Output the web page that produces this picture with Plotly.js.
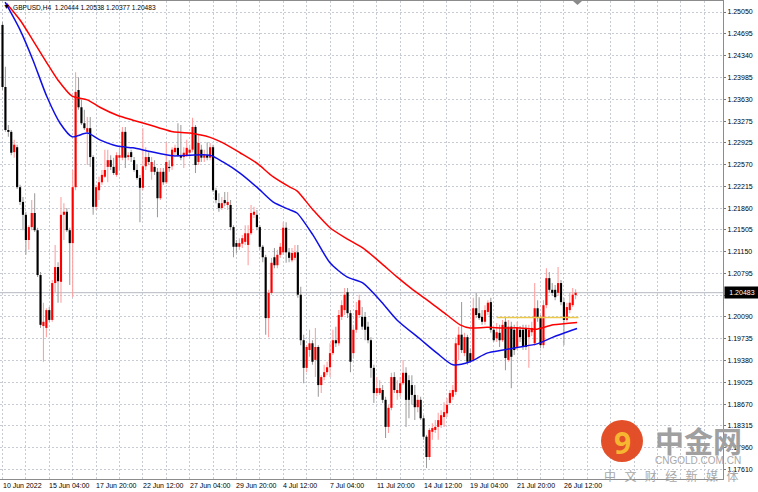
<!DOCTYPE html>
<html><head><meta charset="utf-8">
<script src="https://cdn.plot.ly/plotly-3.0.1.min.js"></script>
<style>html,body{margin:0;padding:0;background:#fff;}#chart{width:758px;height:492px;}</style>
</head><body><div id="chart"></div>
<script>
// GBPUSD H4 candles, bar 0 = 10 Jun 2022 12:00
const openP = [
1.2484,1.2383,1.2313,1.2310,1.2277,1.2285,1.2220,1.2196,1.2175,1.2134,
1.2155,1.2178,1.2150,1.2077,1.1994,1.1991,1.2020,1.2004,1.2064,1.2090,
1.2066,1.2175,1.2180,1.2150,1.2129,1.2220,1.2378,1.2350,1.2324,1.2310,
1.2316,1.2269,1.2188,1.2215,1.2228,1.2237,1.2253,1.2264,1.2253,1.2240,
1.2268,1.2268,1.2310,1.2269,1.2277,1.2264,1.2248,1.2235,1.2219,1.2254,
1.2269,1.2245,1.2253,1.2245,1.2202,1.2245,1.2228,1.2253,1.2254,1.2277,
1.2284,1.2272,1.2269,1.2272,1.2276,1.2281,1.2318,1.2261,1.2281,1.2268,
1.2272,1.2268,1.2285,1.2215,1.2194,1.2186,1.2199,1.2191,1.2191,1.2155,
1.2129,1.2123,1.2128,1.2131,1.2126,1.2145,1.2175,1.2175,1.2155,1.2123,
1.2106,1.2007,1.2048,1.2106,1.2093,1.2110,1.2114,1.2154,1.2114,1.2101,
1.2105,1.2114,1.2045,1.1971,1.1926,1.1955,1.1966,1.1939,1.1960,1.1898,
1.1911,1.1919,1.1927,1.1950,1.1971,1.1966,1.2009,1.2020,1.2049,1.2015,
1.1950,1.1988,1.2012,1.2009,1.2009,1.1993,1.1971,1.1926,1.1885,1.1885,
1.1890,1.1874,1.1830,1.1861,1.1911,1.1885,1.1885,1.1901,1.1918,1.1906,
1.1898,1.1882,1.1862,1.1874,1.1844,1.1814,1.1781,1.1822,1.1825,1.1830,
1.1833,1.1846,1.1852,1.1869,1.1879,1.1887,1.1963,1.1980,1.1950,1.1976,
1.1950,1.1939,1.2023,1.2015,1.2009,1.2001,1.2017,1.2033,1.1988,1.1974,
1.1983,1.1971,1.2001,1.1939,1.1993,1.1988,1.1960,1.1988,1.1988,1.1991,
1.1976,1.1984,1.1966,1.2023,1.2007,1.1963,1.2028,1.2072,1.2053,1.2053,
1.2048,1.2064,1.2033,1.2004,1.2020,1.2028,1.20444];
const highP = [
1.2489,1.2416,1.2321,1.2313,1.2297,1.2289,1.2224,1.2204,1.2180,1.2158,
1.2199,1.2210,1.2154,1.2082,1.2032,1.2023,1.2025,1.2069,1.2126,1.2098,
1.2204,1.2194,1.2186,1.2154,1.2248,1.2407,1.2399,1.2362,1.2346,1.2334,
1.2334,1.2272,1.2224,1.2237,1.2248,1.2281,1.2281,1.2272,1.2268,1.2277,
1.2285,1.2318,1.2318,1.2277,1.2281,1.2269,1.2256,1.2240,1.2316,1.2285,
1.2277,1.2269,1.2264,1.2251,1.2251,1.2251,1.2293,1.2264,1.2285,1.2289,
1.2324,1.2321,1.2285,1.2297,1.2289,1.2333,1.2321,1.2305,1.2289,1.2281,
1.2293,1.2292,1.2289,1.2219,1.2210,1.2204,1.2212,1.2212,1.2199,1.2158,
1.2134,1.2137,1.2142,1.2158,1.2158,1.2191,1.2188,1.2183,1.2158,1.2126,
1.2110,1.2053,1.2105,1.2121,1.2118,1.2129,1.2163,1.2163,1.2121,1.2121,
1.2126,1.2126,1.2058,1.1980,1.1963,1.1988,1.1971,1.1991,1.1963,1.1914,
1.1931,1.1936,1.1966,1.1988,1.1993,1.2020,1.2036,1.2056,1.2056,1.2020,
1.1996,1.2033,1.2045,1.2025,1.2017,1.2001,1.1976,1.1931,1.1911,1.1906,
1.1898,1.1879,1.1866,1.1918,1.1919,1.1906,1.1911,1.1939,1.1927,1.1914,
1.1914,1.1898,1.1882,1.1879,1.1849,1.1817,1.1828,1.1836,1.1841,1.1853,
1.1857,1.1870,1.1877,1.1890,1.1898,1.1976,1.1993,1.2033,1.1983,1.1980,
1.1958,1.2040,1.2048,1.2041,1.2020,1.2028,1.2036,1.2040,1.1993,1.1999,
1.1996,1.2004,1.2007,1.2004,1.2001,1.1996,1.2001,1.1994,1.1996,1.1996,
1.1996,1.2001,1.2064,1.2036,1.2012,1.2036,1.2088,1.2082,1.2064,1.2061,
1.2090,1.2069,1.2040,1.2032,1.2048,1.2056,1.20538];
const lowP = [
1.2378,1.2310,1.2302,1.2272,1.2268,1.2217,1.2191,1.2150,1.2110,1.2118,
1.2150,1.2147,1.2074,1.1991,1.1936,1.1976,1.2001,1.2001,1.2048,1.2032,
1.2032,1.2134,1.2147,1.2061,1.2041,1.2215,1.2346,1.2321,1.2313,1.2256,
1.2253,1.2175,1.2183,1.2199,1.2224,1.2235,1.2228,1.2248,1.2240,1.2237,
1.2248,1.2264,1.2251,1.2264,1.2261,1.2245,1.2232,1.2163,1.2215,1.2248,
1.2256,1.2232,1.2240,1.2171,1.2199,1.2224,1.2225,1.2245,1.2248,1.2272,
1.2269,1.2264,1.2251,1.2269,1.2268,1.2277,1.2243,1.2256,1.2261,1.2261,
1.2264,1.2264,1.2212,1.2194,1.2180,1.2183,1.2189,1.2183,1.2150,1.2106,
1.2113,1.2118,1.2121,1.2126,1.2093,1.2142,1.2170,1.2150,1.2118,1.2098,
1.1980,1.1976,1.2045,1.2088,1.2088,1.2105,1.2110,1.2097,1.2098,1.2098,
1.2101,1.2040,1.1963,1.1901,1.1919,1.1944,1.1931,1.1911,1.1879,1.1885,
1.1906,1.1914,1.1911,1.1947,1.1960,1.1962,1.2004,1.2012,1.2007,1.1919,
1.1942,1.1983,1.2007,1.1988,1.1971,1.1966,1.1910,1.1869,1.1880,1.1882,
1.1869,1.1812,1.1820,1.1857,1.1885,1.1874,1.1879,1.1898,1.1830,1.1844,
1.1866,1.1841,1.1854,1.1841,1.1809,1.1763,1.1776,1.1809,1.1820,1.1809,
1.1828,1.1830,1.1846,1.1866,1.1874,1.1882,1.1939,1.1950,1.1945,1.1931,
1.1934,1.1936,1.2007,1.2004,1.1996,1.1996,1.2012,1.1983,1.1968,1.1968,
1.1960,1.1968,1.1922,1.1936,1.1893,1.1947,1.1955,1.1968,1.1955,1.1955,
1.1926,1.1978,1.1962,1.2001,1.1958,1.1958,1.2023,1.2049,1.2043,1.2036,
1.2043,1.2028,1.1963,1.2001,1.2015,1.2025,1.20377];
const closeP = [
1.2383,1.2313,1.2310,1.2276,1.2289,1.2220,1.2196,1.2175,1.2134,1.2155,
1.2178,1.2150,1.2077,1.1996,1.2001,1.2020,1.2004,1.2064,1.2090,1.2067,
1.2175,1.2180,1.2150,1.2129,1.2220,1.2375,1.2350,1.2324,1.2316,1.2316,
1.2269,1.2188,1.2220,1.2228,1.2240,1.2248,1.2264,1.2253,1.2243,1.2272,
1.2272,1.2310,1.2268,1.2272,1.2269,1.2248,1.2235,1.2219,1.2254,1.2269,
1.2261,1.2261,1.2245,1.2202,1.2245,1.2228,1.2261,1.2251,1.2281,1.2284,
1.2272,1.2268,1.2276,1.2284,1.2281,1.2318,1.2256,1.2292,1.2268,1.2272,
1.2268,1.2285,1.2215,1.2199,1.2186,1.2194,1.2194,1.2196,1.2155,1.2123,
1.2123,1.2129,1.2137,1.2145,1.2145,1.2178,1.2180,1.2155,1.2123,1.2106,
1.2007,1.2048,1.2097,1.2093,1.2110,1.2123,1.2154,1.2114,1.2105,1.2113,
1.2114,1.2045,1.1971,1.1926,1.1960,1.1966,1.1936,1.1960,1.1898,1.1911,
1.1919,1.1927,1.1950,1.1971,1.1966,1.2012,1.2028,1.2045,1.2015,1.1936,
1.1988,1.2020,1.2036,1.1993,1.1988,1.1971,1.1926,1.1885,1.1893,1.1893,
1.1874,1.1830,1.1861,1.1911,1.1890,1.1890,1.1901,1.1918,1.1874,1.1874,
1.1882,1.1862,1.1874,1.1844,1.1814,1.1781,1.1825,1.1828,1.1830,1.1841,
1.1849,1.1854,1.1866,1.1885,1.1890,1.1966,1.1980,1.1955,1.1976,1.1936,
1.1937,1.2023,1.2012,1.2007,1.2001,1.2020,1.2032,1.1988,1.1971,1.1984,
1.1971,1.1996,1.1942,1.1993,1.1944,1.1955,1.1991,1.1976,1.1960,1.1960,
1.1988,1.1991,1.2023,1.2007,1.1963,1.2028,1.2072,1.2053,1.2048,1.2041,
1.2064,1.2033,1.2004,1.2025,1.2032,1.2045,1.20483];

// Moving averages (bar index, price)
const redIdx = [1.4,6,10.4,15.2,19,23.8,29,33.3,39.2,44.6,50.4,53.9,58.3,64.1,71,75.4,81.2,87,92.5,98.3,100.7,106.2,112,117.8,123.3,129.1,134.9,140.4,146.2,152,156.5,159.9,165.7,171,177,182.8,188.3,196.5];
const redVals = [1.2519,1.2492,1.2459,1.2422,1.2394,1.2368,1.2362,1.2350,1.2337,1.2329,1.2321,1.2316,1.2310,1.2308,1.2301,1.2292,1.2276,1.2259,1.2237,1.2220,1.2214,1.2183,1.2154,1.2136,1.2121,1.2098,1.2074,1.2053,1.2033,1.2012,1.1996,1.1991,1.1992,1.1991,1.1991,1.1989,1.1996,1.2000];
const blueIdx = [0.9,6,10.4,15.2,19.7,23.8,29,33.3,39.2,44.6,50.4,58.3,64.1,71,75.4,81.2,87,92.5,98.3,100.7,106.2,112,117.8,123.3,129.1,134.9,142.8,148.6,154.1,159.9,165.7,171.2,177,182.8,188.3,196.5];
const blueVals = [1.2521,1.2476,1.2427,1.2367,1.2324,1.2302,1.2308,1.2297,1.2287,1.2284,1.2278,1.2271,1.2272,1.2272,1.2261,1.2243,1.2220,1.2196,1.2183,1.2178,1.2142,1.2097,1.2074,1.2064,1.2036,1.2004,1.1973,1.1950,1.1931,1.1936,1.1950,1.1955,1.1960,1.1965,1.1976,1.1990];
// horizontal level (yellow)
const levelIdx = [169, 197];
const levelVal = [1.2008, 1.2008];
const lastPrice = 1.20483;

const xLabels = ['10 Jun 2022','15 Jun 04:00','17 Jun 20:00','22 Jun 12:00','27 Jun 04:00','29 Jun 20:00','4 Jul 12:00','7 Jul 04:00','11 Jul 20:00','14 Jul 12:00','19 Jul 04:00','21 Jul 20:00','26 Jul 12:00'];
const barsPerLabel = 16;
const yTickVals = [1.25050,1.24695,1.24340,1.23985,1.23630,1.23275,1.22925,1.22570,1.22215,1.21860,1.21505,1.21150,1.20795,1.20440,1.20090,1.19735,1.19380,1.19025,1.18670,1.18315,1.17960,1.17610];

const idx = openP.map((_, i) => i);
const bull = idx.filter(i => closeP[i] >= openP[i]);
const bear = idx.filter(i => closeP[i] < openP[i]);
function wick(ids, color) {
  return {type:'bar', x: ids, base: ids.map(i => lowP[i]), y: ids.map(i => highP[i] - lowP[i]),
    width: 0.36, marker:{color: color, line:{width:0}}, hoverinfo:'skip'};
}
function body(ids, color) {
  return {type:'bar', x: ids, base: ids.map(i => Math.min(openP[i], closeP[i])),
    y: ids.map(i => Math.max(Math.abs(closeP[i] - openP[i]), 0.00004)),
    width: 0.74, marker:{color: color, line:{width:0}}, hoverinfo:'skip'};
}
const traces = [
  wick(bear, '#9d9d9d'), wick(bull, '#ff9e9e'),
  body(bear, '#000000'), body(bull, '#ff0000'),
  {type:'scatter', mode:'lines', x: redIdx, y: redVals, line:{color:'#ff0000', width:1.5, shape:'spline', smoothing:0.7}, hoverinfo:'skip'},
  {type:'scatter', mode:'lines', x: blueIdx, y: blueVals, line:{color:'#1010e6', width:1.5, shape:'spline', smoothing:0.7}, hoverinfo:'skip'},
  {type:'scatter', mode:'lines', x: levelIdx, y: levelVal, line:{color:'#ecc94b', width:1.6}, hoverinfo:'skip'}
];

const xTicks = [];
for (let t = 0; t <= 240; t += barsPerLabel / 2) xTicks.push(t);

const PW = 723, PH = 478, PT = 1;
const px = v => v / PW, py = v => (PT + PH - v) / PH;
const grid = '#c7ccd4';

const xLabelAnn = xLabels.map((s, k) => ({
  xref: 'x', yref: 'paper', x: k * barsPerLabel, y: 0, xanchor: 'left', yanchor: 'top', yshift: -1, xshift: -2,
  showarrow: false, text: s, font: {size: 7, color: '#000'}
}));

const layout = {
  width: 758, height: 492,
  margin: {l: 0, r: 35, t: PT, b: 13},
  paper_bgcolor: '#ffffff', plot_bgcolor: '#ffffff',
  showlegend: false, barmode: 'overlay',
  font: {family: 'Liberation Sans, Arial, sans-serif', size: 7, color: '#000'},
  xaxis: {range: [-0.855, 246.4], tickmode: 'array', tickvals: xTicks, showticklabels: false,
    showgrid: true, gridcolor: grid, griddash: '2px,2px', gridwidth: 1,
    zeroline: false, showline: true, linecolor: '#8c8c8c', linewidth: 1, mirror: true, ticks: '', fixedrange: true},
  yaxis: {side: 'right', range: [1.17452, 1.25229], tickmode: 'array', tickvals: yTickVals,
    ticktext: yTickVals.map(v => Math.abs(v - lastPrice) < 0.0007 ? '' : v.toFixed(5)),
    showgrid: true, gridcolor: grid, griddash: '2px,2px', gridwidth: 1,
    zeroline: false, showline: true, linecolor: '#8c8c8c', linewidth: 1, mirror: true,
    ticks: 'outside', ticklen: 2, tickcolor: '#777', tickfont: {size: 7, color: '#000'}, fixedrange: true},
  shapes: [
    {type: 'line', xref: 'paper', x0: 0, x1: 1, yref: 'y', y0: lastPrice, y1: lastPrice, line: {color: '#b4b8c0', width: 1}, layer: 'below'},
    {type: 'path', xref: 'paper', yref: 'paper', path: `M ${px(573)} ${py(1)} L ${px(582)} ${py(1)} L ${px(577.5)} ${py(5)} Z`, fillcolor: '#8a8a8a', line: {width: 0}},
    {type: 'circle', xref: 'paper', yref: 'paper', x0: px(601), x1: px(643), y0: py(462), y1: py(420), fillcolor: '#e2461c', line: {width: 0}, opacity: 0.95}
  ],
  annotations: xLabelAnn.concat([
    {xref: 'paper', yref: 'paper', x: px(11), y: 1, xanchor: 'left', yanchor: 'top', yshift: -1, showarrow: false,
      text: 'GBPUSD,H4  1.20444 1.20538 1.20377 1.20483', font: {size: 6.6, color: '#000'}},
    {xref: 'paper', yref: 'paper', x: px(1), y: 1, xanchor: 'left', yanchor: 'top', yshift: 0, showarrow: false,
      text: '▼', font: {size: 7, color: '#000'}},
    {xref: 'paper', yref: 'y', x: 1, y: lastPrice, xanchor: 'left', yanchor: 'middle', xshift: 1, showarrow: false,
      text: lastPrice.toFixed(5), bgcolor: '#000', borderpad: 2, width: 30, font: {size: 7, color: '#fff'}},
    {xref: 'paper', yref: 'paper', x: px(622), y: py(442), xanchor: 'center', yanchor: 'middle', showarrow: false,
      text: '<b>9</b>', font: {family: 'Noto Sans, sans-serif', size: 30, color: '#f6b631'}},
    {xref: 'paper', yref: 'paper', x: px(698), y: py(440), xanchor: 'center', yanchor: 'middle', showarrow: false,
      text: '<b>中金网</b>', font: {family: 'Noto Sans CJK SC, sans-serif', size: 29, color: '#a0a0a0'}},
    {xref: 'paper', yref: 'paper', x: px(698), y: py(460), xanchor: 'center', yanchor: 'middle', showarrow: false,
      text: 'CNGOLD.COM.CN', font: {family: 'Liberation Sans, sans-serif', size: 10, color: '#a8a8a8'}},
    {xref: 'paper', yref: 'paper', x: px(671), y: py(475), xanchor: 'center', yanchor: 'middle', showarrow: false,
      text: '中\u2002\u2009文\u2002\u2009财\u2002\u2009经\u2002\u2009新\u2002\u2009媒\u2002\u2009体', font: {family: 'Noto Sans CJK SC, sans-serif', size: 12, color: '#a8a8a8'}}
  ])
};

Plotly.newPlot('chart', traces, layout, {staticPlot: true, displayModeBar: false});
</script>
</body></html>
